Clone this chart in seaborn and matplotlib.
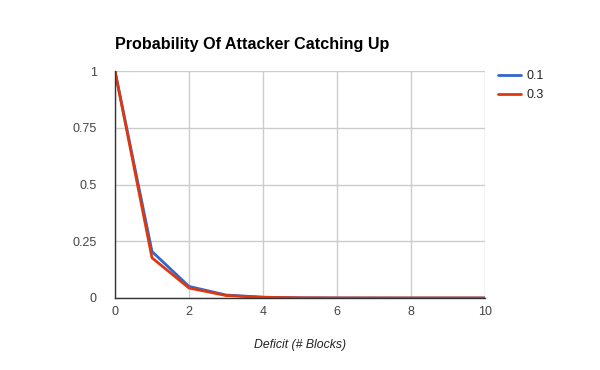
import matplotlib
matplotlib.use("Agg")
import matplotlib.pyplot as plt
import seaborn as sns
import pandas as pd
from matplotlib.lines import Line2D

deficit = [0, 1, 2, 3, 4, 5, 6, 7, 8, 9, 10]
p_01 = [1.0, 0.2046, 0.0510, 0.0132, 0.0035, 0.0009, 0.0002, 0.0001, 0.0, 0.0, 0.0]
p_03 = [1.0, 0.177, 0.044, 0.011, 0.003, 0.0008, 0.0002, 0.0001, 0.0, 0.0, 0.0]
series_names = ["0.1", "0.3"]
colors = ["#3366cc", "#dc3912"]
x_ticks = [0, 2, 4, 6, 8, 10]
x_tick_labels = ["0", "2", "4", "6", "8", "10"]
y_ticks = [0, 0.25, 0.5, 0.75, 1]
y_tick_labels = ["0", "0.25", "0.5", "0.75", "1"]

df = pd.DataFrame({
    "x": deficit * 2,
    "y": p_01 + p_03,
    "series": [series_names[0]] * len(deficit) + [series_names[1]] * len(deficit),
})

sns.set_theme(style="white")
plt.rcParams['font.family'] = ['Liberation Sans', 'DejaVu Sans']

fig = plt.figure(figsize=(6, 3.7), dpi=100)
ax = fig.add_axes([115/600, 1-298/370, 370/600, 227/370])

sns.lineplot(data=df, x="x", y="y", hue="series", palette=colors,
             linewidth=2, ax=ax, legend=False)

ax.set_xlim(0, 10)
ax.set_ylim(0, 1)
ax.set_xticks(x_ticks)
ax.set_yticks(y_ticks)
ax.set_xticklabels(x_tick_labels)
ax.set_yticklabels(y_tick_labels)
ax.grid(True, color="#cccccc", linewidth=1)
ax.set_axisbelow(True)
for s in ["top", "right"]:
    ax.spines[s].set_visible(False)
for s in ["left", "bottom"]:
    ax.spines[s].set_color("#333333")
    ax.spines[s].set_linewidth(1)
ax.tick_params(axis="both", length=0, labelsize=9, labelcolor="#444444")
ax.tick_params(axis="x", pad=6)
ax.tick_params(axis="y", pad=13)

ax.set_xlabel("Deficit (# Blocks)", fontsize=8.8, style="italic", color="#222222", labelpad=15)
ax.set_ylabel("")

fig.text(115/600, 1-44/370, "Probability Of Attacker Catching Up", fontsize=11.6,
         fontweight="bold", color="#000000", va="center", ha="left")

handles = [Line2D([0], [0], color=c, linewidth=2) for c in colors]
fig.legend(handles, series_names, loc="upper left", bbox_to_anchor=(493/600, 1-65/370),
           frameon=False, fontsize=9, handlelength=1.85, handletextpad=0.45,
           labelspacing=0.6, labelcolor="#222222", borderaxespad=0.0)

fig.savefig("out.png", dpi=100)
